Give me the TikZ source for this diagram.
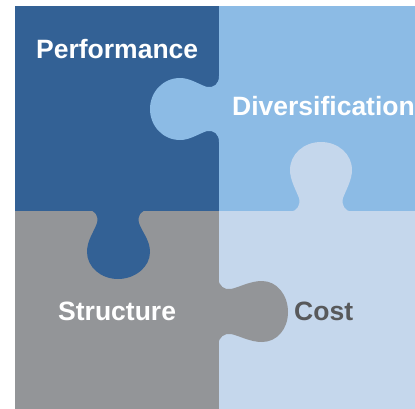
\documentclass[tikz,border=0pt]{standalone}
\usepackage{fontspec}
\setmainfont{Liberation Sans}
\definecolor{perfblue}{HTML}{336195}
\definecolor{divblue}{HTML}{8CBBE5}
\definecolor{structgray}{HTML}{939598}
\definecolor{costblue}{HTML}{C5D7EC}
\definecolor{costtext}{HTML}{58595B}
\tikzset{
  label/.style={font=\fontsize{26.5bp}{30bp}\selectfont\bfseries, inner sep=0pt, anchor=base west},
}
\begin{document}
\begin{tikzpicture}[x=1bp, y=-1bp]
  % canvas
  \fill[white] (0,0) rectangle (415,409);
  \useasboundingbox (0,0) rectangle (415,409);

  % the four pieces
  \fill[perfblue]   (15,6)    rectangle (219,211);
  \fill[divblue]    (219,6)   rectangle (415,211);
  \fill[structgray] (15,211)  rectangle (219,409);
  \fill[costblue]   (219,211) rectangle (415,409);

  % knob of Diversification into Performance
  \fill[divblue] (219,76) .. controls (219,84) and (214,88) .. (207,87)
    .. controls (198,84) and (190,78) .. (180,78)
    .. controls (163,78) and (150,92) .. (150,109)
    .. controls (150,126) and (163,140) .. (180,140)
    .. controls (190,140) and (198,134) .. (207,131)
    .. controls (214,130) and (219,134) .. (219,142) -- cycle;

  % knob of Performance into Structure
  \fill[perfblue] (88,210) .. controls (95,210) and (99,216) .. (97,223)
    .. controls (94,232) and (87,240) .. (87,252)
    .. controls (87,267) and (101,279) .. (118,279)
    .. controls (135,279) and (150,267) .. (150,252)
    .. controls (150,240) and (142,232) .. (139,223)
    .. controls (137,216) and (141,210) .. (148,210) -- cycle;

  % knob of Cost into Diversification
  \fill[costblue] (290,212) .. controls (297,211) and (301,205) .. (299,198)
    .. controls (296,190) and (290,180) .. (290,170)
    .. controls (290,154) and (304,142) .. (321,142)
    .. controls (338,142) and (352,154) .. (352,170)
    .. controls (352,180) and (346,190) .. (343,198)
    .. controls (341,205) and (345,211) .. (352,212) -- cycle;

  % knob of Structure into Cost
  \fill[structgray] (218,278) .. controls (219,286) and (224,290) .. (231,289)
    .. controls (240,287) and (250,281) .. (262,281)
    .. controls (277,281) and (288,295) .. (288,312)
    .. controls (288,329) and (277,342) .. (262,342)
    .. controls (250,342) and (240,336) .. (231,334)
    .. controls (224,333) and (219,337) .. (218,345) -- cycle;

  % labels
  \node[label, text=white]    (perf)   at (36,58)   {Performance};
  \node[label, text=white]    (div)    at (232,115) {Diversification};
  \node[label, text=white]    (struct) at (58,320)  {Structure};
  \node[label, text=costtext] (cost)   at (294,320) {Cost};
\end{tikzpicture}
\end{document}
